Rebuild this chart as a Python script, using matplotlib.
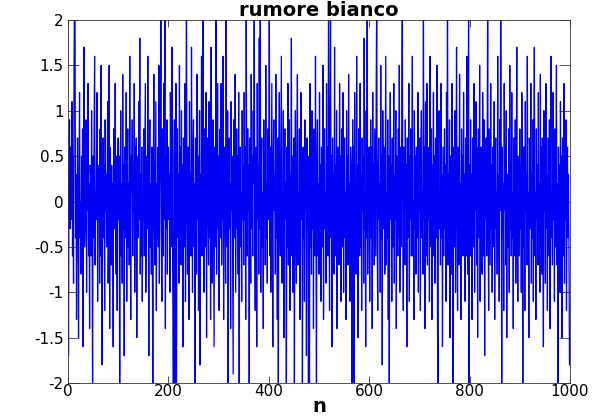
import numpy as np
import matplotlib
matplotlib.use("Agg")
import matplotlib.pyplot as plt

# campioni di rumore bianco stimati dal grafico, 20 righe da 50
rumore = [
    0.2, -1.7, 0.4, 0.9, -0.3, 0.6, -0.2, 0.1, 1.1, -0.6, 0.5, -0.9, 1.4, 2.4, 2.1, -0.4, 0.3, -1.3, -0.1, 0.7,
    -0.2, -1.5, 0.3, 1.2, -0.4, 0.0, -0.8, 0.5, -0.7, 0.8, -1.6, 0.4, 1.7, -0.5, -0.3, 0.2, 0.9, -1.0, 0.6, -0.1,
    1.3, -0.6, 0.2, -1.4, 0.4, 0.3, -0.6, 1.0, -0.3, -2.3,
    0.5, -0.4, 0.8, 1.6, -0.7, 0.1, -0.2, 0.6, 1.2, -1.1, 0.3, -0.2, 0.4, -0.9, 0.8, -0.6, 1.5, 0.0, -1.8, 0.2,
    0.7, -0.4, 0.4, -1.2, 0.9, -0.1, 0.3, -0.5, 0.2, 1.1, -0.9, -0.3, 1.5, -1.4, 0.6, 0.1, -0.7, 0.4, -0.5, 0.2,
    -1.6, 0.8, 0.3, -0.3, 1.3, -0.2, -0.8, 0.5, -1.2, 0.4,
    0.7, -0.2, 0.5, -2.4, 0.1, 1.0, -0.6, 0.2, -0.9, 1.4, -0.3, 0.4, -1.7, 0.6, 0.0, -0.4, 1.2, -1.1, 0.3, 0.8,
    -0.5, 0.2, -0.7, 1.6, -0.2, -1.3, 0.5, 0.1, 0.9, -0.6, 0.4, -0.1, 1.3, -1.0, 0.6, -0.3, 0.7, -1.5, 0.2, 0.5,
    -0.4, 1.1, -0.2, 1.8, -0.8, 0.3, -0.6, 0.6, -1.1, 0.0,
    -0.2, 0.8, -0.6, 0.4, 1.3, -1.0, 0.1, 0.5, -0.3, 1.6, -0.1, -1.7, 0.3, 0.9, -0.5, 0.2, -0.8, 0.6, -0.4, -2.2,
    0.4, 1.4, -0.1, -0.7, 0.3, 1.1, -1.2, 0.2, -0.4, 0.6, -0.5, 1.5, -0.9, 0.1, 0.7, 2.5, -0.3, -1.1, 0.8, 0.0,
    -0.6, 1.3, -0.2, 2.3, -1.4, 0.5, -0.3, 0.9, -0.8, 0.4,
    0.6, -0.2, 0.3, -1.0, 1.2, 0.2, -0.5, 1.7, -0.1, -1.4, -2.5, 0.5, 0.9, -2.2, 0.1, 1.3, -2.6, 0.2, 0.8, -0.4,
    0.3, -0.9, 1.5, -0.3, 0.6, -0.7, 1.0, -0.2, 0.4, -1.6, 0.7, 0.0, -0.5, 1.3, -1.1, 0.4, 2.6, -0.1, -0.8, 0.6,
    0.2, -1.3, 1.1, -0.4, 0.3, -0.6, 1.7, 0.1, -1.0, 0.5,
    0.9, -0.5, 0.2, -2.4, 0.7, 0.4, -0.8, 1.4, -0.2, 0.5, -1.2, 0.1, 1.0, -1.8, 0.3, -0.4, 1.6, -0.6, 0.3, 2.2,
    -0.2, -1.0, 0.8, 0.1, -0.5, 1.2, -1.5, 0.4, 0.7, -0.1, -0.7, 1.1, -0.4, 0.5, -1.3, 1.7, 0.0, -0.9, 0.3, 0.9,
    -0.3, -1.6, 0.6, 0.2, -0.5, 2.4, -0.8, 0.1, 1.3, -0.3,
    0.5, -1.2, 0.1, 0.8, -0.4, 1.3, -0.7, 0.3, -0.2, 1.6, -1.3, 0.4, 0.6, -0.2, -0.9, 2.3, 0.1, -0.5, 1.0, -2.3,
    0.3, 0.7, -0.3, 0.2, -1.4, 1.1, -0.1, 0.5, -0.6, -1.9, 0.9, 0.2, -0.4, 1.4, -1.0, 0.0, 0.8, -0.3, 0.5, -0.8,
    1.2, -2.5, 0.3, 0.6, -0.5, 0.1, -1.1, 1.0, -0.2, 0.4,
    -0.7, 1.2, -0.2, 0.6, -1.3, 2.2, 0.2, -0.6, 0.8, -0.1, 0.4, -2.4, 0.7, 0.0, -0.9, 1.4, -0.3, 0.5, -0.6, 1.0,
    0.2, 2.5, -0.4, -1.2, 0.6, 0.1, -1.6, 1.3, -0.2, 0.4, -0.8, 1.8, -0.3, 2.3, -1.0, 0.3, 0.7, -0.5, 0.1, -1.4,
    0.9, -0.1, 0.5, -0.7, 1.5, -0.4, 0.2, -0.9, 0.8, -0.2,
    0.3, 2.4, -0.6, 0.6, -1.0, 0.2, 1.3, -0.3, -1.6, 0.5, 0.9, -0.1, 0.3, -0.8, 1.4, -0.4, 0.1, -1.3, 0.7, -2.3,
    0.4, 1.2, -0.2, -0.6, 0.5, 1.6, -0.9, 0.1, -0.4, 1.0, -1.5, 0.3, 0.8, -0.2, 0.2, -2.5, 0.6, -0.5, 1.3, -0.7,
    0.0, 0.9, -1.2, 0.3, -0.1, 1.8, -0.6, 0.5, -1.0, 0.2,
    0.7, -2.2, 0.3, 1.0, -0.3, -0.9, 0.5, 1.4, -0.7, 0.1, -0.4, 0.8, -1.3, 0.2, 1.2, -0.2, 0.5, -2.4, 0.6, -0.4,
    0.2, -1.1, 0.9, -0.1, 0.4, -1.7, 0.7, -0.3, 0.3, -2.6, 0.5, -2.2, 1.3, -0.5, 0.1, -0.8, 1.0, -0.3, 0.4, -1.4,
    0.8, 0.0, -0.6, 1.6, -0.2, -2.3, 0.5, 0.9, -0.6, 0.2,
    -0.8, 1.2, -0.1, 0.4, -1.1, 0.6, 0.2, -0.5, 1.5, -1.3, 0.3, 0.8, -0.3, 0.1, -0.9, 1.3, -0.4, 0.6, -0.6, 2.4,
    0.1, -1.2, 0.9, 2.2, -0.4, 0.5, -1.6, 0.7, -0.2, 0.3, -0.8, 1.7, -0.6, 0.4, -0.1, 1.0, -1.4, 0.2, 0.6, -0.3,
    -0.7, 1.3, -0.4, 0.5, -1.1, 0.8, 0.0, -0.5, 1.2, -1.0,
    0.3, 0.7, -0.4, 0.1, -1.3, 1.0, -0.2, 0.5, -0.7, 1.4, -0.3, 0.2, -1.1, 0.6, 0.4, -0.6, -2.4, 0.9, -0.1, 0.6,
    -2.2, 1.2, -0.4, 0.1, -0.8, 1.6, -0.2, 0.4, -1.5, 0.8, 0.2, -0.6, 1.3, -0.5, 0.3, -1.2, 0.7, -0.1, 0.5, -0.9,
    1.8, -0.3, 0.1, -1.6, 1.0, -0.4, 2.5, -0.8, 0.4, -0.2,
    0.6, -1.1, 0.2, 0.9, -0.4, 0.6, -1.4, 1.2, -0.1, 0.4, -0.7, 0.8, 0.1, -0.6, 1.3, 2.3, -0.5, -1.2, 0.3, 0.7,
    -0.2, 0.2, -1.0, 1.5, -0.4, 0.5, -1.8, 1.0, 0.0, -0.3, 0.6, -0.8, 0.4, 1.6, -0.7, 0.1, -0.4, 0.9, -1.3, 0.5,
    -2.3, 0.2, 1.2, -0.2, 0.4, -1.1, 0.7, -0.5, 0.2, 1.3,
    -0.9, 0.3, -0.2, 1.0, -1.4, 0.5, 0.1, -0.6, 0.8, -0.4, 1.5, -1.0, 0.2, 0.6, -0.5, 1.2, 2.4, -0.3, -1.2, 0.6,
    0.1, -0.7, 0.9, -0.1, 0.4, -1.6, 0.7, -0.4, 0.3, 1.3, -1.1, 0.5, -0.2, 0.8, -0.6, 0.3, 1.6, -0.6, 0.0, -1.3,
    1.0, -0.3, 0.5, -0.8, 0.6, 0.2, -0.4, 1.2, -1.0, 0.4,
    -0.1, 0.7, -1.2, 0.4, 1.0, -0.4, 0.1, -0.8, 2.3, -0.2, 0.6, -1.4, 1.1, 0.3, -0.6, 1.3, -0.7, 0.3, -0.2, 0.6,
    -1.1, 1.6, 0.1, -0.5, 0.8, -1.3, 0.4, -0.1, 1.2, -0.6, 0.5, -0.9, 0.7, 0.2, -0.4, 1.5, -1.2, -2.4, 0.6, 1.0,
    -0.3, 0.1, -0.7, 1.3, -0.4, 0.3, -1.6, 0.6, 0.0, -0.6,
    0.8, -0.3, 0.4, -1.1, 1.2, -0.1, 2.5, -0.7, 0.3, -0.4, 0.9, -1.5, 0.5, 0.1, -0.8, 1.3, -0.3, -2.3, 0.6, 0.3,
    -0.5, 1.0, -1.0, 0.4, 1.7, -0.2, -1.2, 0.6, 0.1, -0.7, 1.4, -0.4, 0.2, -1.3, 0.8, -0.1, 0.5, -0.6, 1.2, -0.4,
    0.3, -1.1, 0.7, 0.0, -0.6, 1.6, -0.8, 0.4, 2.2, -2.4,
    0.4, -0.6, 0.9, -0.3, 0.3, -1.3, 0.7, 0.1, -0.5, 1.3, -1.0, 0.4, -0.1, 1.1, -0.7, 0.6, -1.5, 0.8, 0.2, -0.4,
    1.5, -1.1, 0.3, 0.6, -0.3, -0.8, 1.2, 0.1, -0.6, 0.9, -1.7, 0.5, -0.2, 0.7, -0.6, 0.3, 2.4, -0.4, -1.2, 0.8,
    0.0, -0.7, 1.3, -0.3, 0.4, -1.0, 0.6, 0.2, -0.5, 1.1,
    -1.3, 0.4, 0.7, -0.3, 0.1, -0.8, 1.6, -0.6, 0.3, -1.1, 0.9, -0.1, 2.5, 0.5, -2.3, 0.6, -0.4, 0.2, -1.2, 1.3,
    -0.1, 0.6, -0.7, 1.0, -1.5, 0.3, 0.1, -0.5, 0.8, -1.0, 1.5, -0.3, 0.4, -0.6, 1.2, -0.4, 0.1, -1.4, 0.7, 0.3,
    -0.6, 0.9, -0.9, 0.5, 1.7, -0.2, -1.1, 0.5, 0.0, -0.6,
    0.8, -0.3, 0.4, -1.0, 1.2, 0.2, -2.4, 0.6, -0.5, 0.6, -1.2, 1.1, -0.1, 0.3, -0.7, 1.6, -0.5, 0.1, -1.5, 0.7,
    0.5, -0.3, 1.3, -0.9, 0.3, -0.4, 0.9, -1.1, 0.5, 1.7, -0.6, 0.1, -1.3, 0.8, -0.2, 0.4, -0.7, 1.2, -0.3, 0.2,
    -1.0, 1.4, -0.5, 0.6, -0.8, 0.7, 0.0, -1.6, 1.0, -0.1,
    0.5, -0.9, 1.3, -0.3, 0.3, -1.2, 0.7, 0.1, -0.6, 0.9, -1.4, 0.4, 1.6, -0.4, 0.1, -0.7, 1.2, -0.2, 0.6, -1.1,
    0.8, -0.5, 0.3, 1.5, -0.7, 0.2, -2.3, 0.6, -0.3, 0.4, -1.0, 1.1, -0.1, 0.5, -1.5, 0.7, 0.0, -0.6, 1.3, -0.9,
    0.3, -0.2, 0.9, -1.2, 0.1, 0.6, -0.4, 0.3, -0.6, -1.8,
]
n = np.arange(len(rumore))

x_ticks = [0, 200, 400, 600, 800, 1000]
y_ticks = [-2, -1.5, -1, -0.5, 0, 0.5, 1, 1.5, 2]
y_labels = ['-2', '-1.5', '-1', '-0.5', '0', '0.5', '1', '1.5', '2']

plt.rcParams['font.family'] = ['DejaVu Sans']

fig = plt.figure(figsize=(5.98, 4.16), dpi=100)
ax = fig.add_axes([68 / 598, 33 / 416, 502 / 598, 363 / 416])

ax.plot(n, rumore, color=(0, 0, 0.95), linewidth=0.9)

ax.set_xlim(0, 1000)
ax.set_ylim(-2, 2)
ax.set_xticks(x_ticks)
ax.set_yticks(y_ticks)
ax.set_yticklabels(y_labels)

ax.tick_params(direction='in', top=True, right=True, labelsize=11, colors='#333333',
               labelcolor='black', width=0.6)
ax.tick_params(axis='y', length=8, pad=3)
ax.tick_params(axis='x', length=5, pad=1)
for s in ax.spines.values():
    s.set_linewidth(0.6)
    s.set_color('#333333')

ax.set_title('rumore bianco', fontsize=14, fontweight='bold', pad=3)
ax.set_xlabel('n', fontsize=14, fontweight='bold', labelpad=-2)

fig.savefig('out.png', dpi=100)
